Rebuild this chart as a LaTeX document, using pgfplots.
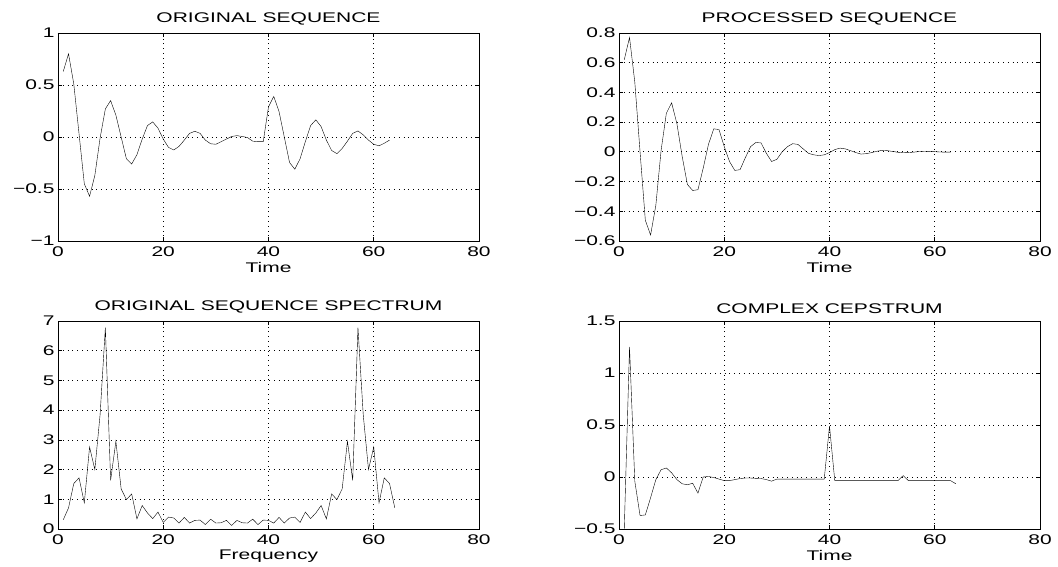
\documentclass[border=0pt]{standalone}
\usepackage{fontspec}
\setmainfont{Liberation Sans}[FakeStretch=1.5]
\usepackage{pgfplots}
\pgfplotsset{compat=1.18}

\pgfplotsset{
  mat/.style={
    scale only axis, width=421pt, height=208pt,
    anchor=south west,
    font=\fontsize{14}{16}\selectfont,
    axis line style={line width=0.9pt},
    tick style={black, line width=0.7pt},
    major tick length=4pt, tick align=inside,
    xmin=0, xmax=80, xtick={0,20,40,60,80},
    xticklabels={0,20,40,60,80},
    x tick label style={yshift=-2pt},
    grid=major,
    major grid style={black, line width=0.7pt, dash pattern=on 0.8pt off 4pt},
    cycle list={{black, line width=1.2pt, mark=none}},
    clip=true,
    title style={yshift=-2pt},
    xlabel style={yshift=1pt},
  }
}

\begin{document}
\begin{tikzpicture}
\path[use as bounding box] (0,0) rectangle (1058pt,567pt);

% original sequence
\begin{axis}[mat, at={(58pt,326pt)},
  title={ORIGINAL SEQUENCE}, xlabel={Time},
  ymin=-1, ymax=1, ytick={-1,-0.5,0,0.5,1},
  yticklabels={−1,−0.5,0,0.5,1}]
\addplot table {
x y
1 0.63
2 0.80
3 0.51
4 0.03
5 -0.45
6 -0.57
7 -0.37
8 -0.01
9 0.27
10 0.35
11 0.21
12 0.0
13 -0.21
14 -0.26
15 -0.17
16 -0.02
17 0.11
18 0.145
19 0.085
20 -0.02
21 -0.10
22 -0.125
23 -0.09
24 -0.03
25 0.035
26 0.055
27 0.035
28 -0.03
29 -0.065
30 -0.07
31 -0.045
32 -0.02
33 0.005
34 0.013
35 0.005
36 -0.005
37 -0.04
38 -0.045
39 -0.045
40 0.29
41 0.39
42 0.245
43 0.0
44 -0.245
45 -0.31
46 -0.21
47 -0.045
48 0.11
49 0.165
50 0.10
51 -0.03
52 -0.13
53 -0.16
54 -0.11
55 -0.04
56 0.035
57 0.058
58 0.02
59 -0.03
60 -0.07
61 -0.085
62 -0.06
63 -0.03
};
\end{axis}

% processed sequence
\begin{axis}[mat, at={(619pt,326pt)},
  title={PROCESSED SEQUENCE}, xlabel={Time},
  ymin=-0.6, ymax=0.8, ytick={-0.6,-0.4,-0.2,0,0.2,0.4,0.6,0.8},
  yticklabels={−0.6,−0.4,−0.2,0,0.2,0.4,0.6,0.8}]
\addplot table {
x y
1 0.62
2 0.77
3 0.47
4 0.0
5 -0.46
6 -0.56
7 -0.36
8 0.01
9 0.26
10 0.33
11 0.19
12 -0.03
13 -0.22
14 -0.26
15 -0.255
16 -0.11
17 0.05
18 0.155
19 0.15
20 0.035
21 -0.065
22 -0.125
23 -0.12
24 -0.04
25 0.035
26 0.063
27 0.06
28 -0.01
29 -0.065
30 -0.05
31 0.0
32 0.035
33 0.055
34 0.05
35 0.02
36 -0.01
37 -0.02
38 -0.025
39 -0.02
40 -0.005
41 0.015
42 0.025
43 0.02
44 0.008
45 -0.005
46 -0.015
47 -0.012
48 -0.005
49 0.004
50 0.01
51 0.008
52 0.003
53 -0.003
54 -0.006
55 -0.005
56 -0.002
57 0.002
58 0.004
59 0.003
60 0.001
61 -0.001
62 -0.002
63 -0.002
};
\end{axis}

% spectrum
\begin{axis}[mat, at={(58pt,38pt)},
  title={ORIGINAL SEQUENCE SPECTRUM}, xlabel={Frequency},
  ymin=0, ymax=7, ytick={0,1,2,3,4,5,6,7},
  yticklabels={0,1,2,3,4,5,6,7}]
\addplot table {
x y
1 0.31
2 0.71
3 1.53
4 1.72
5 0.88
6 2.76
7 2.0
8 3.85
9 6.78
10 1.64
11 2.95
12 1.35
13 0.99
14 1.18
15 0.34
16 0.79
17 0.54
18 0.35
19 0.57
20 0.22
21 0.40
22 0.37
23 0.20
24 0.39
25 0.20
26 0.29
27 0.30
28 0.15
29 0.33
30 0.20
31 0.21
32 0.29
33 0.12
34 0.29
35 0.21
36 0.20
37 0.33
38 0.15
39 0.30
40 0.29
41 0.20
42 0.39
43 0.20
44 0.37
45 0.40
46 0.22
47 0.57
48 0.35
49 0.54
50 0.79
51 0.34
52 1.18
53 0.99
54 1.35
55 2.95
56 1.64
57 6.78
58 3.85
59 2.0
60 2.76
61 0.88
62 1.72
63 1.53
64 0.71
};
\end{axis}

% cepstrum
\begin{axis}[mat, at={(619pt,38pt)},
  title={COMPLEX CEPSTRUM}, xlabel={Time},
  ymin=-0.5, ymax=1.5, ytick={-0.5,0,0.5,1,1.5},
  yticklabels={−0.5,0,0.5,1,1.5}]
\addplot table {
x y
1 -0.5
2 1.25
3 -0.04
4 -0.37
5 -0.365
6 -0.2
7 -0.025
8 0.07
9 0.087
10 0.04
11 -0.025
12 -0.065
13 -0.075
14 -0.06
15 -0.155
16 0.0
17 0.005
18 -0.005
19 -0.02
20 -0.035
21 -0.035
22 -0.025
23 -0.015
24 -0.01
25 -0.01
26 -0.013
27 -0.015
28 -0.025
29 -0.04
30 -0.02
31 -0.02
32 -0.02
33 -0.02
34 -0.02
35 -0.02
36 -0.02
37 -0.02
38 -0.02
39 -0.02
40 0.49
41 -0.035
42 -0.035
43 -0.035
44 -0.035
45 -0.035
46 -0.035
47 -0.035
48 -0.035
49 -0.035
50 -0.035
51 -0.035
52 -0.035
53 -0.035
54 0.013
55 -0.035
56 -0.035
57 -0.035
58 -0.035
59 -0.035
60 -0.035
61 -0.035
62 -0.035
63 -0.035
64 -0.065
};
\end{axis}
\end{tikzpicture}
\end{document}
